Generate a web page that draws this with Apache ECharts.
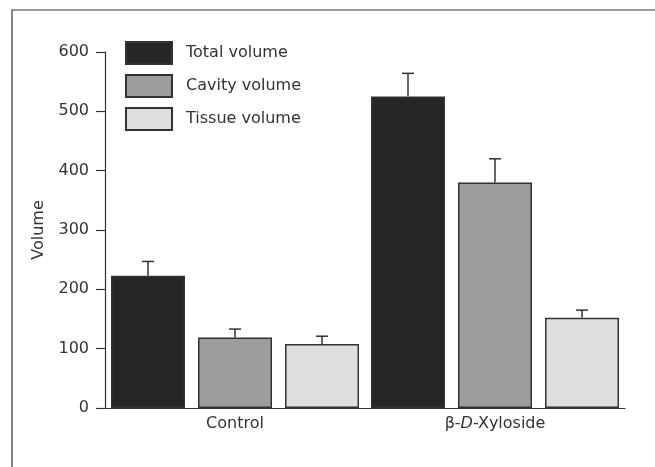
<!DOCTYPE html>
<html>
<head>
<meta charset="utf-8">
<script src="https://cdn.jsdelivr.net/npm/echarts@6/dist/echarts.min.js"></script>
<style>
  html, body { margin: 0; padding: 0; background: #fff; }
  #chart { width: 655px; height: 467px; }
</style>
</head>
<body>
<div id="chart"></div>
<script>
const categories = ['Control', 'Xyloside'];
const seriesNames = ['Total volume', 'Cavity volume', 'Tissue volume'];
const totalVolume = [223, 525];
const cavityVolume = [119, 380];
const tissueVolume = [108, 152];
// upper end of each error bar
const totalErr = [247, 564];
const cavityErr = [133, 420];
const tissueErr = [121, 165];

const fills = ['#262626', '#9d9d9d', '#dedede'];
const barValues = [totalVolume, cavityVolume, tissueVolume];
const errValues = [totalErr, cavityErr, tissueErr];
const barWidth = 74;
const offsets = [-87, 0, 87];
const font = 'DejaVu Sans, sans-serif';

let chart = echarts.init(document.getElementById('chart'));

let series = [];
barValues.forEach((vals, i) => {
    series.push({
        name: seriesNames[i],
        type: 'bar',
        barWidth: barWidth,
        barGap: '17.6%',
        data: vals,
        itemStyle: { color: fills[i], borderColor: '#333', borderWidth: 1.5 },
        z: 2
    });
});
errValues.forEach((errs, i) => {
    series.push({
        type: 'custom',
        z: 3,
        data: errs.map((e, k) => [k, barValues[i][k], e]),
        renderItem: (params, api) => {
            const base = api.coord([api.value(0), api.value(1)]);
            const top = api.coord([api.value(0), api.value(2)]);
            const x = base[0] + offsets[i];
            const style = { stroke: '#333', lineWidth: 1.5 };
            return {
                type: 'group',
                children: [
                    { type: 'line', shape: { x1: x, y1: base[1], x2: x, y2: top[1] }, style: style },
                    { type: 'line', shape: { x1: x - 6, y1: top[1], x2: x + 6, y2: top[1] }, style: style }
                ]
            };
        }
    });
});

let option = {
    animation: false,
    textStyle: { fontFamily: font, color: '#333' },
    graphic: [{
        type: 'polyline',
        shape: { points: [[12, 467], [12, 10], [655, 10]] },
        style: { stroke: '#333', lineWidth: 1.2, fill: null }
    }],
    grid: { left: 105, right: 30, top: 52, bottom: 59 },
    legend: {
        data: seriesNames,
        orient: 'vertical',
        left: 120,
        top: 36,
        icon: 'rect',
        itemWidth: 46,
        itemHeight: 22,
        itemGap: 9,
        textStyle: { fontFamily: font, fontSize: 16, color: '#333', padding: [0, 0, 0, 9] }
    },
    xAxis: {
        type: 'category',
        data: categories,
        axisLine: { lineStyle: { color: '#333', width: 1.2 } },
        axisTick: { show: false },
        axisLabel: {
            fontFamily: font,
            fontSize: 16,
            color: '#333',
            margin: 8,
            formatter: v => v === 'Xyloside' ? 'β-{i|D}-Xyloside' : v,
            rich: { i: { fontFamily: font, fontStyle: 'italic', fontSize: 16, color: '#333' } }
        }
    },
    yAxis: {
        type: 'value',
        min: 0,
        max: 600,
        interval: 100,
        name: 'Volume',
        nameLocation: 'middle',
        nameGap: 58,
        nameTextStyle: { fontFamily: font, fontSize: 16, color: '#333' },
        axisLine: { show: true, lineStyle: { color: '#333', width: 1.2 } },
        axisTick: { show: true, length: 9, lineStyle: { color: '#333', width: 1.2 } },
        axisLabel: { fontFamily: font, fontSize: 16, color: '#333', margin: 16 },
        splitLine: { show: false }
    },
    series: series
};

chart.setOption(option);
</script>
</body>
</html>
